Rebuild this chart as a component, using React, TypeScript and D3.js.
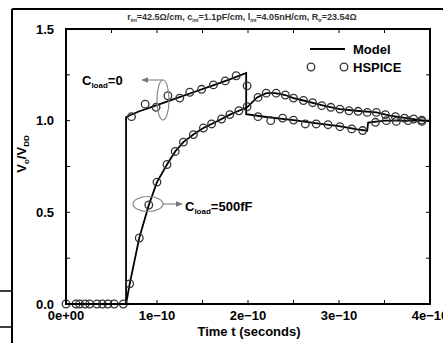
import React from 'react';
import * as d3 from 'd3';

// time in units of 1e-10 s, voltage as Vo/VDD
const modelLoad0T = [0, 0.66, 0.66, 0.8, 1.0, 1.2, 1.4, 1.6, 1.8, 1.98, 1.98, 2.2, 2.5, 2.8, 3.0, 3.2, 3.31, 3.32, 3.5, 3.7, 4.0];
const modelLoad0V = [0, 0, 1.02, 1.05, 1.085, 1.12, 1.155, 1.19, 1.225, 1.26, 1.035, 1.02, 1.003, 0.983, 0.97, 0.953, 0.945, 0.99, 1.0, 1.0, 1.0];

const model500T = [0, 0.66, 0.7, 0.805, 0.91, 1.0, 1.11, 1.2, 1.29, 1.4, 1.51, 1.6, 1.71, 1.8, 1.9, 1.99, 2.1, 2.2, 2.3, 2.41, 2.5, 2.61, 2.83, 3.01, 3.19, 3.41, 3.56, 3.74, 3.93, 4.0];
const model500V = [0, 0, 0.11, 0.36, 0.54, 0.665, 0.761, 0.832, 0.883, 0.924, 0.96, 0.982, 1.009, 1.033, 1.054, 1.073, 1.127, 1.15, 1.15, 1.14, 1.123, 1.11, 1.082, 1.063, 1.054, 1.045, 1.027, 1.014, 1.0, 0.998];

const spiceLoad0T = [0, 0.15, 0.26, 0.4, 0.53, 0.72, 0.87, 0.99, 1.12, 1.25, 1.36, 1.49, 1.62, 1.75, 1.87, 1.99, 2.11, 2.25, 2.38, 2.5, 2.63, 2.75, 2.88, 3.01, 3.14, 3.26, 3.4, 3.52, 3.63, 3.76, 3.91];
const spiceLoad0V = [0, 0, 0, 0, 0, 1.022, 1.09, 1.073, 1.136, 1.123, 1.155, 1.171, 1.195, 1.217, 1.245, 1.19, 1.022, 1.0, 1.014, 1.003, 0.982, 0.982, 0.978, 0.967, 0.955, 0.946, 0.991, 1.0, 0.996, 1.0, 0.996];

const spice500T = [0.11, 0.21, 0.34, 0.46, 0.63, 0.7, 0.805, 0.91, 1.0, 1.11, 1.2, 1.29, 1.4, 1.51, 1.6, 1.71, 1.8, 1.9, 1.99, 2.11, 2.2, 2.31, 2.41, 2.5, 2.61, 2.71, 2.81, 2.91, 3.01, 3.11, 3.21, 3.31, 3.41, 3.51, 3.62, 3.72, 3.82, 3.91];
const spice500V = [0, 0, 0, 0, 0, 0.11, 0.36, 0.54, 0.665, 0.761, 0.832, 0.883, 0.924, 0.96, 0.982, 1.009, 1.033, 1.054, 1.076, 1.127, 1.15, 1.15, 1.14, 1.123, 1.11, 1.098, 1.082, 1.073, 1.063, 1.054, 1.051, 1.045, 1.045, 1.033, 1.022, 1.014, 1.009, 1.003];

const xTickVals = [0, 1, 2, 3, 4];
const xTickLabels = ['0e+00', '1e\u221210', '2e\u221210', '3e\u221210', '4e\u221210'];
const yTickVals = [0, 0.5, 1.0, 1.5];
const yTickLabels = ['0.0', '0.5', '1.0', '1.5'];

const W = 443;
const H = 343;
const font = '"Liberation Sans", Arial, sans-serif';

export default function App() {
  const x = d3.scaleLinear().domain([0, 4]).range([66, 430]);
  const y = d3.scaleLinear().domain([0, 1.5]).range([304, 29]);

  const line = d3.line<[number, number]>()
    .x(d => x(d[0]))
    .y(d => y(d[1]));

  const zip = (t: number[], v: number[]) => t.map((ti, i) => [ti, v[i]] as [number, number]);

  const xMinor = d3.range(0, 4.01, 0.5);
  const yMinor = d3.range(0, 1.51, 0.25);
  const [x0, x1] = x.range();
  const [y0, y1] = y.range();
  const tk = 4;

  return (
    <svg width={W} height={H} style={{ position: 'absolute', left: 0, top: 0, background: '#fff' }}
      fontFamily={font} fontWeight="bold">
      <defs>
        <marker id="arr" viewBox="0 0 10 10" refX="9" refY="5" markerWidth="6" markerHeight="6" orient="auto">
          <path d="M0,1 L10,5 L0,9 z" fill="#777" />
        </marker>
      </defs>

      {/* outer frame fragments */}
      <line x1={12} y1={9} x2={W} y2={9} stroke="#000" strokeWidth={2} />
      <line x1={12} y1={9} x2={12} y2={H} stroke="#000" strokeWidth={2} />
      <line x1={0} y1={291} x2={11} y2={291} stroke="#000" strokeWidth={1.5} />
      <line x1={0} y1={327} x2={11} y2={327} stroke="#000" strokeWidth={1.5} />

      {/* title */}
      <text x={242} y={20} fontSize={9} textAnchor="middle" fill="#333">
        r<tspan fontSize={5} dy={2}>int</tspan><tspan dy={-2}>=42.5Ω/cm, c</tspan>
        <tspan fontSize={5} dy={2}>int</tspan><tspan dy={-2}>=1.1pF/cm, l</tspan>
        <tspan fontSize={5} dy={2}>int</tspan><tspan dy={-2}>=4.05nH/cm, R</tspan>
        <tspan fontSize={5} dy={2}>tr</tspan><tspan dy={-2}>=23.54Ω</tspan>
      </text>

      {/* ticks */}
      {xMinor.map(v => (
        <g key={'xt' + v}>
          <line x1={x(v)} x2={x(v)} y1={y0} y2={y0 - tk} stroke="#000" strokeWidth={1} />
          <line x1={x(v)} x2={x(v)} y1={y1} y2={y1 + tk} stroke="#000" strokeWidth={1} />
        </g>
      ))}
      {yMinor.map(v => (
        <g key={'yt' + v}>
          <line x1={x0} x2={x0 + tk} y1={y(v)} y2={y(v)} stroke="#000" strokeWidth={1} />
          <line x1={x1} x2={x1 - tk} y1={y(v)} y2={y(v)} stroke="#000" strokeWidth={1} />
        </g>
      ))}

      {/* tick labels */}
      {xTickVals.map((v, i) => (
        <text key={'xl' + v} x={x(v)} y={320} fontSize={13} textAnchor="middle">{xTickLabels[i]}</text>
      ))}
      {yTickVals.map((v, i) => (
        <text key={'yl' + v} x={54} y={y(v) + 4.5} fontSize={13} textAnchor="end">{yTickLabels[i]}</text>
      ))}

      {/* axis titles */}
      <text x={249} y={336} fontSize={13} textAnchor="middle">Time t (seconds)</text>
      <text transform="translate(26,154) rotate(-90)" fontSize={13} textAnchor="middle">
        V<tspan fontSize={8} dy={3}>o</tspan><tspan dy={-3}>/V</tspan><tspan fontSize={8} dy={3}>DD</tspan>
      </text>

      {/* curves */}
      <path d={line(zip(modelLoad0T, modelLoad0V)) ?? ''} fill="none" stroke="#000" strokeWidth={1.8} />
      <path d={line(zip(model500T, model500V)) ?? ''} fill="none" stroke="#000" strokeWidth={1.8} />
      {zip(spiceLoad0T, spiceLoad0V).concat(zip(spice500T, spice500V)).map((d, i) => (
        <circle key={'c' + i} cx={x(d[0])} cy={y(d[1])} r={3.8} fill="none" stroke="#333" strokeWidth={1.3} />
      ))}

      {/* frame */}
      <rect x={x0} y={y1} width={x1 - x0} height={y0 - y1} fill="none" stroke="#000" strokeWidth={2} />

      {/* legend */}
      <line x1={310} x2={345} y1={49} y2={49} stroke="#000" strokeWidth={1.8} />
      <text x={353} y={54} fontSize={13}>Model</text>
      <circle cx={311} cy={67} r={3.8} fill="none" stroke="#333" strokeWidth={1.3} />
      <circle cx={344} cy={67} r={3.8} fill="none" stroke="#333" strokeWidth={1.3} />
      <text x={353} y={72} fontSize={13}>HSPICE</text>

      {/* annotations */}
      <ellipse cx={163} cy={100} rx={6} ry={20} fill="none" stroke="#888" strokeWidth={1.2} />
      <line x1={163} y1={80} x2={142} y2={80} stroke="#888" strokeWidth={1.2} markerEnd="url(#arr)" />
      <text x={82} y={85} fontSize={13}>
        C<tspan fontSize={8} dy={3}>load</tspan><tspan dy={-3}>=0</tspan>
      </text>

      <ellipse cx={148} cy={204} rx={15} ry={7.5} fill="none" stroke="#888" strokeWidth={1.2} />
      <line x1={163} y1={204} x2={182} y2={204} stroke="#888" strokeWidth={1.2} markerEnd="url(#arr)" />
      <text x={185} y={211} fontSize={13}>
        C<tspan fontSize={8} dy={3}>load</tspan><tspan dy={-3}>=500fF</tspan>
      </text>
    </svg>
  );
}
